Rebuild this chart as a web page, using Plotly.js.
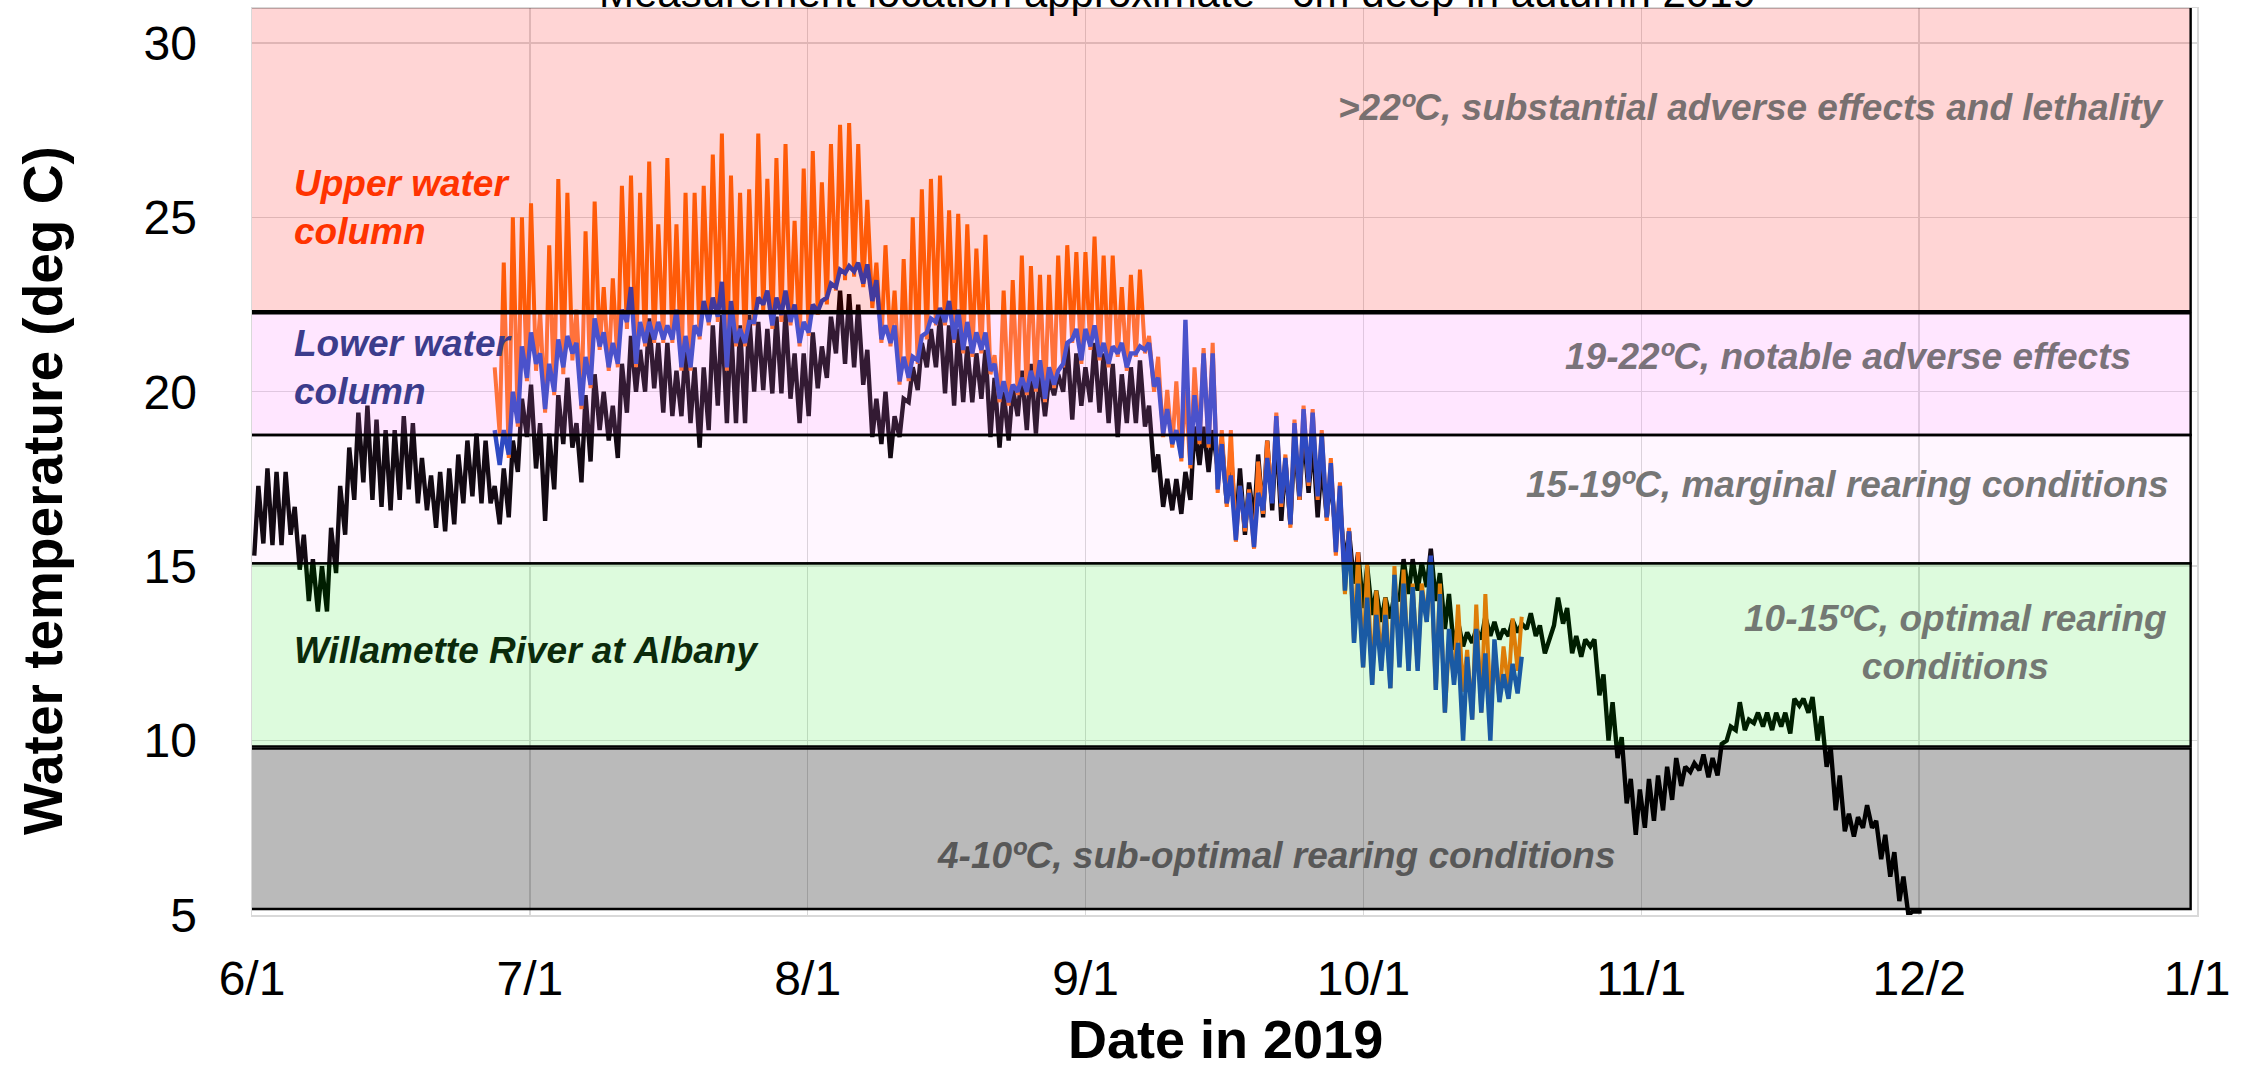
<!DOCTYPE html>
<html>
<head>
<meta charset="utf-8">
<script src="https://cdn.plot.ly/plotly-3.0.1.min.js"></script>
<style>
  html, body { margin: 0; padding: 0; background: #ffffff; }
  #chart { width: 2255px; height: 1068px; }
</style>
</head>
<body>
<div id="chart"></div>
<script>
// Day 0 of every series is 1 June 2019; each day carries a morning low and an afternoon high.
const SERIES_ORIGIN = '2019-06-01';

// Willamette River at Albany, 1 Jun - 2 Dec 2019 (deg C)
const albanyStartDay = 0;
const albanyMin = [
  15.3, 15.65, 15.6, 15.6, 15.9, 14.9, 14.0, 13.7, 13.7, 14.8,
  15.9, 16.9, 17.4, 16.9, 16.7, 16.6, 16.9, 17.2, 16.8, 16.6,
  16.1, 16.0, 16.2, 16.8, 17.0, 16.8, 16.8, 16.2, 16.4, 17.7,
  18.7, 17.8, 16.3, 17.2, 18.5, 18.4, 17.4, 18.0, 18.9, 18.6,
  18.1, 19.4, 20.0, 20.0, 20.1, 19.4, 19.3, 19.3, 19.1, 18.4,
  18.9, 19.6, 19.1, 19.1, 19.1, 20.0, 20.05, 19.95, 19.95, 19.8,
  19.1, 19.3, 20.1, 20.4, 21.1, 20.8, 20.7, 20.2, 18.7, 18.5,
  18.1, 18.7, 19.7, 20.05, 20.7, 20.7, 19.95, 19.6, 19.7, 19.7,
  19.8, 18.7, 18.4, 18.6, 19.3, 18.9, 18.8, 19.3, 19.9, 20.0,
  19.2, 19.6, 19.7, 19.4, 19.1, 18.7, 19.1, 19.1, 19.0, 17.7,
  16.7, 16.6, 16.5, 16.9, 17.9, 17.7, 17.8, 16.8, 16.0, 15.9,
  16.3, 16.4, 16.6, 16.3, 16.2, 16.9, 17.1, 16.4, 16.4, 15.8,
  15.0, 14.5, 13.8, 13.6, 13.4, 13.5, 14.0, 14.2, 14.3, 14.4,
  14.0, 13.2, 12.6, 12.7, 12.8, 12.9, 13.0, 12.9, 13.0, 13.1,
  13.2, 13.0, 12.5, 13.3, 13.35, 12.5, 12.4, 12.7, 11.3, 10.0,
  9.5, 8.2, 7.3, 7.5, 7.7, 8.0, 8.3, 8.7, 9.1, 9.15,
  8.95, 9.0, 10.0, 10.3, 10.3, 10.5, 10.4, 10.3, 10.4, 10.2,
  11.0, 10.8, 10.0, 9.25, 8.0, 7.4, 7.25, 7.5, 7.5, 6.6,
  6.1, 5.4, 5.0, 5.1
];
const albanyMax = [
  17.3, 17.8, 17.7, 17.7, 16.7, 15.9, 15.2, 15.0, 16.1, 17.3,
  18.4, 19.4, 19.6, 19.2, 18.9, 18.9, 19.3, 19.1, 18.1, 17.6,
  17.7, 17.8, 18.2, 18.6, 18.8, 18.6, 17.3, 17.8, 18.6, 19.8,
  20.2, 19.1, 18.8, 19.9, 20.4, 19.1, 19.9, 20.5, 20.0, 19.6,
  20.8, 21.6, 21.2, 22.1, 21.4, 21.4, 20.6, 21.3, 20.7, 20.7,
  21.9, 22.2, 21.9, 21.9, 22.2, 22.0, 21.8, 22.15, 22.3, 21.1,
  21.1, 21.7, 21.3, 22.15, 22.9, 22.8, 22.5, 21.2, 19.8, 20.0,
  19.3, 19.8, 20.7, 21.4, 21.8, 22.2, 21.9, 21.8, 21.3, 21.1,
  21.2, 20.4, 20.0, 20.1, 20.6, 20.8, 20.6, 20.4, 20.5, 21.4,
  21.1, 20.7, 21.4, 21.1, 20.8, 20.5, 20.7, 20.9, 19.6, 18.2,
  17.5, 17.5, 17.7, 19.0, 19.0, 18.9, 18.6, 18.3, 17.8, 17.4,
  18.2, 18.6, 18.8, 18.0, 18.6, 18.9, 18.6, 18.0, 17.6, 16.8,
  16.0, 15.4, 15.0, 14.3, 14.1, 14.2, 15.2, 15.2, 15.1, 15.5,
  14.8, 14.2, 13.4, 13.1, 13.2, 13.55, 13.4, 13.2, 13.45, 13.35,
  13.65, 13.3, 12.9, 14.1, 13.8, 13.0, 12.9, 12.9, 11.9, 11.1,
  10.1, 8.9, 8.6, 8.9, 9.0, 9.25, 9.5, 9.25, 9.35, 9.6,
  9.5, 9.9, 10.4, 11.1, 10.6, 10.8, 10.8, 10.8, 10.8, 11.2,
  11.2, 11.25, 10.7, 9.8, 9.0, 7.9, 7.8, 8.15, 7.7, 7.3,
  6.8, 6.1, 5.1, 5.1
];

// Upper water column logger, 27 Jun - 19 Oct 2019 (deg C)
const upperStartDay = 26;
const upperMin = [
  null, 18.8, 18.1, 19.0, 20.3, 20.6, 19.4, 19.9, 20.5, 20.9,
  19.5, 20.1, 21.2, 20.6, 20.7, 21.8, 20.7, 21.3, 21.4, 21.4,
  21.4, 20.6, 20.6, 21.5, 21.9, 22.0, 20.6, 21.3, 21.3, 21.9,
  22.3, 21.8, 22.0, 21.9, 21.3, 21.6, 22.2, 22.5, 22.9, 23.2,
  23.3, 23.0, 22.4, 21.4, 21.3, 20.2, 20.3, 20.8, 21.5, 21.9,
  21.9, 21.4, 21.1, 21.0, 21.1, 20.5, 19.7, 19.6, 19.9, 19.9,
  20.0, 19.7, 20.1, 20.7, 21.4, 20.8, 21.2, 20.9, 20.7, 21.0,
  20.6, 21.0, 21.1, 20.0, 18.7, 18.4, 18.0, 17.8, 18.5, 18.4,
  17.1, 16.7, 15.7, 16.0, 15.5, 16.5, 16.9, 16.7, 16.1, 16.9,
  17.3, 16.9, 16.3, 15.3, 14.2, 12.8, 12.1, 11.6, 12.1, 11.5,
  12.4, 12.0, 12.1, 13.4, 11.45, 10.8, 11.8, 11.4, 10.6, 10.8,
  11.1, 11.2, 11.5, 12.0
];
const upperMax = [
  20.7, 23.7, 25.0, 25.0, 25.4, 22.3, 24.2, 26.1, 25.7, 22.35,
  24.6, 25.45, 23.0, 23.25, 25.9, 26.2, 25.7, 26.6, 24.8, 26.7,
  24.8, 25.7, 25.7, 25.9, 26.8, 27.4, 26.2, 25.7, 25.8, 27.4,
  26.1, 26.7, 27.1, 24.9, 26.4, 26.9, 26.0, 27.1, 27.65, 27.7,
  27.1, 25.5, 23.7, 24.2, 22.9, 23.8, 25.0, 25.8, 26.1, 26.2,
  25.2, 25.1, 24.8, 24.1, 24.5, 21.05, 22.9, 23.2, 23.9, 23.6,
  23.35, 23.35, 23.9, 24.2, 24.0, 24.0, 24.45, 23.9, 23.9, 23.0,
  23.35, 23.5, 21.6, 21.0, 20.05, 20.3, 20.05, 20.7, 21.25, 21.4,
  18.9, 18.9, 17.3, 17.2, 18.0, 18.6, 19.4, 18.2, 19.2, 19.6,
  19.5, 18.9, 18.1, 17.4, 16.1, 15.4, 15.05, 14.3, 14.1, 15.0,
  14.9, 14.5, 14.5, 15.1, 14.5, 12.8, 13.9, 12.6, 13.9, 14.2,
  12.5, 12.7, 13.5, 13.55
];

// Lower water column logger, 27 Jun - 19 Oct 2019 (deg C)
const lowerStartDay = 26;
const lowerMin = [
  null, 17.9, 18.2, 19.1, 20.4, 20.8, 19.5, 20.0, 20.7, 21.1,
  19.6, 20.2, 21.3, 20.7, 20.8, 22.0, 20.8, 21.4, 21.5, 21.5,
  21.5, 20.7, 20.7, 21.6, 22.0, 22.15, 20.7, 21.4, 21.4, 22.0,
  22.5, 21.9, 22.2, 22.0, 21.4, 21.7, 22.3, 22.7, 23.0, 23.4,
  23.45, 23.1, 22.6, 21.5, 21.4, 20.3, 20.4, 20.9, 21.7, 22.0,
  22.0, 21.5, 21.2, 21.1, 21.2, 20.6, 19.8, 19.7, 20.0, 20.0,
  20.1, 19.8, 20.2, 20.8, 21.5, 20.9, 21.3, 21.0, 20.8, 21.1,
  20.7, 21.1, 21.2, 20.15, 18.8, 18.5, 18.1, 17.9, 18.6, 18.5,
  17.2, 16.8, 15.75, 16.1, 15.55, 16.6, 16.8, 16.8, 16.2, 17.0,
  17.4, 17.0, 16.4, 15.4, 14.3, 12.8, 12.1, 11.6, 12.0, 11.5,
  12.1, 12.0, 12.0, 13.4, 11.45, 10.8, 11.6, 10.0, 10.6, 10.8,
  10.0, 11.1, 11.2, 11.35
];
const lowerMax = [
  18.9, 18.9, 20.0, 21.3, 21.7, 21.1, 20.8, 21.5, 21.6, 21.4,
  21.0, 22.1, 21.7, 21.4, 22.35, 23.0, 22.0, 22.0, 22.0, 21.9,
  22.35, 21.6, 21.9, 22.6, 22.7, 23.15, 22.6, 21.8, 22.0, 22.7,
  22.9, 22.7, 22.9, 22.5, 22.0, 22.5, 22.6, 23.1, 23.5, 23.6,
  23.7, 23.65, 23.2, 21.9, 21.9, 21.0, 21.0, 21.6, 22.1, 22.4,
  22.6, 22.35, 22.0, 21.7, 21.7, 20.8, 20.3, 20.2, 20.4, 20.6,
  20.9, 20.7, 20.6, 21.4, 21.8, 21.8, 21.9, 21.4, 21.3, 21.4,
  21.1, 21.3, 21.4, 20.4, 19.5, 18.9, 22.06, 19.9, 21.1, 21.1,
  18.5, 17.6, 17.3, 17.1, 17.1, 18.1, 19.3, 18.1, 19.1, 19.5,
  19.4, 18.8, 17.95, 17.3, 16.0, 14.5, 14.1, 13.6, 13.6, 14.75,
  14.5, 14.4, 14.3, 15.3, 14.2, 13.2, 12.8, 12.4, 13.2, 12.5,
  12.9, 11.9, 12.2, 12.4
];

// Axis labelling
const xTickLabels = ['6/1', '7/1', '8/1', '9/1', '10/1', '11/1', '12/2', '1/1'];
const yTickValues = [5, 10, 15, 20, 25, 30];

// Salmonid rearing temperature zones: [lower edge, upper edge] in deg C
const zoneLethal   = [22.31, 31.03];
const zoneAdverse  = [18.76, 22.25];
const zoneMarginal = [15.08, 18.76];
const zoneOptimal  = [9.83, 15.08];
const zoneSubOpt   = [5.17, 9.77];

const DAY_MS = 86400000;
const originMs = Date.parse(SERIES_ORIGIN + 'T00:00:00Z');
function stamp(dayOffset) {
  return new Date(originMs + Math.round(dayOffset * DAY_MS)).toISOString().slice(0, 19).replace('T', ' ');
}

// Interleave the daily low (early morning) and high (late afternoon) into one trace.
function dailyCycle(startDay, lows, highs) {
  const x = [], y = [];
  for (let i = 0; i < lows.length; i++) {
    const d = startDay + i;
    if (lows[i] !== null) { x.push(stamp(d + 0.25)); y.push(lows[i]); }
    if (highs[i] !== null) { x.push(stamp(d + 0.7)); y.push(highs[i]); }
  }
  return { x, y };
}

const albany = dailyCycle(albanyStartDay, albanyMin, albanyMax);
const upper = dailyCycle(upperStartDay, upperMin, upperMax);
const lower = dailyCycle(lowerStartDay, lowerMin, lowerMax);

const traces = [
  { x: albany.x, y: albany.y, type: 'scatter', mode: 'lines', name: 'Willamette River at Albany',
    line: { color: '#000000', width: 4.4 }, hoverinfo: 'skip' },
  { x: upper.x, y: upper.y, type: 'scatter', mode: 'lines', name: 'Upper water column',
    line: { color: '#FF6E0A', width: 4.0 }, hoverinfo: 'skip' },
  { x: lower.x, y: lower.y, type: 'scatter', mode: 'lines', name: 'Lower water column',
    line: { color: '#1E46BE', width: 4.4 }, hoverinfo: 'skip' }
];

// Axis span: 1 Jun 2019 to 1 Jan 2020, split into seven equal intervals
const axisStart = '2019-06-01';
const axisEnd = '2020-01-01';
const spanStartMs = Date.parse(axisStart + 'T00:00:00Z');
const spanEndMs = Date.parse(axisEnd + 'T00:00:00Z');
const xTickValues = xTickLabels.map((_, k) =>
  new Date(spanStartMs + k * (spanEndMs - spanStartMs) / (xTickLabels.length - 1)).toISOString().slice(0, 19).replace('T', ' '));

// Zone rectangles are translucent and sit above the curves, tinting them.
const bandLeft = stamp(-0.45);
const bandRight = stamp(213.3);
function band(range, fill) {
  return {
    type: 'rect', layer: 'above', xref: 'x', yref: 'y',
    x0: bandLeft, x1: bandRight, y0: range[0], y1: range[1],
    fillcolor: fill, line: { color: '#000000', width: 2.4 }
  };
}
const shapes = [
  band(zoneLethal, 'rgba(255,0,0,0.165)'),
  band(zoneAdverse, 'rgba(255,128,255,0.2)'),
  band(zoneMarginal, 'rgba(255,128,255,0.075)'),
  band(zoneOptimal, 'rgba(0,225,0,0.135)'),
  band(zoneSubOpt, 'rgba(0,0,0,0.27)')
];

const FONT = 'Liberation Sans, Arial, sans-serif';
function zoneNote(text, x, y, xanchor, color) {
  return {
    text: '<b><i>' + text + '</i></b>', xref: 'paper', yref: 'y', x: x, y: y,
    xanchor: xanchor, yanchor: 'middle', showarrow: false, align: 'center',
    font: { family: FONT, size: 37, color: color }
  };
}
function seriesNote(text, y, color) {
  return {
    text: '<b><i>' + text + '</i></b>', xref: 'paper', yref: 'y', x: 0.0206, y: y,
    xanchor: 'left', yanchor: 'middle', showarrow: false, align: 'left',
    font: { family: FONT, size: 37, color: color }
  };
}

const annotations = [
  zoneNote('>22ºC, substantial adverse effects and lethality', 0.9846, 28.14, 'right', '#787070'),
  zoneNote('19-22ºC, notable adverse effects', 0.967, 21.0, 'right', '#7A727A'),
  zoneNote('15-19ºC, marginal rearing conditions', 0.9866, 17.33, 'right', '#767676'),
  zoneNote('10-15ºC, optimal rearing<br>conditions', 0.876, 12.8, 'center', '#737873'),
  zoneNote('4-10ºC, sub-optimal rearing conditions', 0.5265, 6.7, 'center', '#585858'),
  seriesNote('Upper water<br>column', 25.27, '#FF3300'),
  seriesNote('Lower water<br>column', 20.7, '#3C3C8C'),
  seriesNote('Willamette River at Albany', 12.57, '#0B2A0B'),
  // chart heading, partly beyond the top edge of the page
  {
    text: 'Measurement location approximate ~6m deep in autumn 2019',
    xref: 'paper', yref: 'paper', x: 0.476, y: 0.989, xanchor: 'center', yanchor: 'bottom',
    showarrow: false, font: { family: FONT, size: 42, color: '#000000' }
  },
  // vertical axis title
  {
    text: '<b>Water temperature (deg C)</b>',
    xref: 'paper', yref: 'paper', x: -0.1075, y: 0.4686, xanchor: 'center', yanchor: 'middle',
    textangle: -90, showarrow: false, font: { family: FONT, size: 55, color: '#000000' }
  },
  // horizontal axis title
  {
    text: '<b>Date in 2019</b>',
    xref: 'paper', yref: 'paper', x: 0.5003, y: -0.1365, xanchor: 'center', yanchor: 'middle',
    showarrow: false, font: { family: FONT, size: 54, color: '#000000' }
  }
];

const layout = {
  width: 2255, height: 1068,
  margin: { l: 252, r: 58, t: 8, b: 153 },
  paper_bgcolor: '#ffffff', plot_bgcolor: '#ffffff',
  showlegend: false,
  xaxis: {
    type: 'date', range: [axisStart, axisEnd],
    tickmode: 'array', tickvals: xTickValues, ticktext: xTickLabels,
    ticks: 'outside', ticklen: 21, tickcolor: 'rgba(0,0,0,0)',
    tickfont: { family: FONT, size: 48, color: '#000000' },
    showgrid: true, gridcolor: '#D9D9D9', gridwidth: 1.5,
    showline: true, linecolor: '#D9D9D9', linewidth: 1.5, mirror: true,
    zeroline: false
  },
  yaxis: {
    range: [5, 31], tickmode: 'array', tickvals: yTickValues,
    ticks: 'outside', ticklen: 44, tickcolor: 'rgba(0,0,0,0)',
    tickfont: { family: FONT, size: 48, color: '#000000' },
    showgrid: true, gridcolor: '#D9D9D9', gridwidth: 1.5,
    showline: true, linecolor: '#D9D9D9', linewidth: 1.5, mirror: true,
    zeroline: false
  },
  shapes: shapes,
  annotations: annotations
};

Plotly.newPlot('chart', traces, layout, { staticPlot: true, displayModeBar: false });
</script>
</body>
</html>
